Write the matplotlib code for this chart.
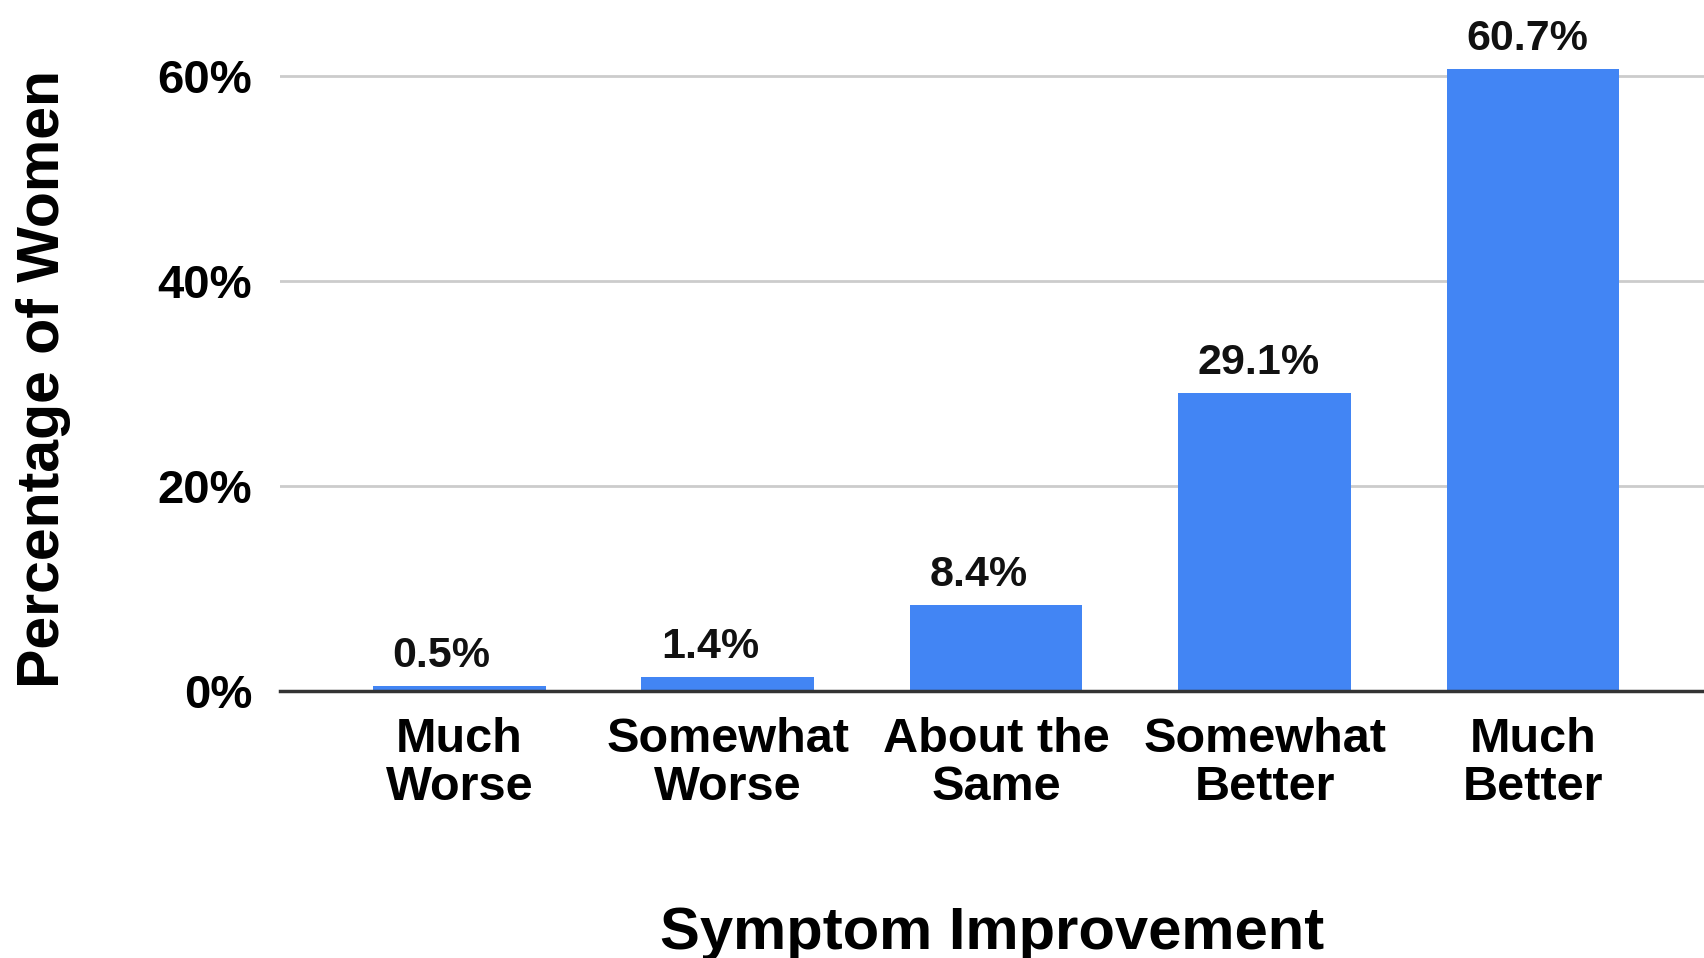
import matplotlib
matplotlib.use("Agg")
import matplotlib.pyplot as plt
from matplotlib.ticker import FuncFormatter

categories = ["Much\nWorse", "Somewhat\nWorse", "About the\nSame", "Somewhat\nBetter", "Much\nBetter"]
values = [0.5, 1.4, 8.4, 29.1, 60.7]
value_labels = ["0.5%", "1.4%", "8.4%", "29.1%", "60.7%"]
y_ticks = [0, 20, 40, 60]

plt.rcParams["font.family"] = ["Liberation Sans", "DejaVu Sans"]
plt.rcParams["font.weight"] = "bold"

fig = plt.figure(figsize=(17.04, 9.58), dpi=100)
ax = fig.add_axes([280 / 1704, 1 - 691 / 958, 1 - 280 / 1704, 691 / 958])

x = list(range(len(categories)))
ax.bar(x, values, width=0.643, color="#4285f4", zorder=3)

for xi, v, lab in zip(x, values, value_labels):
    ax.annotate(lab, (xi, v), xytext=(-48, 7), textcoords="offset points",
                ha="left", va="bottom", fontsize=31, fontweight="bold", color="#111111")

ax.set_xlim(-0.668, 4.637)
ax.set_ylim(0, 67.4)
ax.set_yticks(y_ticks)
ax.yaxis.set_major_formatter(FuncFormatter(lambda v, p: f"{v:.0f}%"))
ax.set_xticks(x)
ax.set_xticklabels(categories, fontsize=35, fontweight="bold", linespacing=1.08)
ax.tick_params(axis="x", length=0, pad=19)
ax.tick_params(axis="y", length=0, pad=20, labelsize=34)

ax.grid(axis="y", color="#cccccc", linewidth=2, zorder=0)
for s in ["top", "right", "left"]:
    ax.spines[s].set_visible(False)
ax.spines["bottom"].set_color("#333333")
ax.spines["bottom"].set_linewidth(2.5)
ax.spines["bottom"].set_zorder(4)

ax.set_xlabel("Symptom Improvement", fontsize=43, fontweight="bold")
ax.xaxis.label.set_va("center")
ax.xaxis.set_label_coords(0.5, -0.351)
ax.set_ylabel("Percentage of Women", fontsize=42.5, fontweight="bold")
ax.yaxis.label.set_va("center")
ax.yaxis.set_label_coords(-0.166, 0.4515)

fig.savefig("out.png", dpi=100)
